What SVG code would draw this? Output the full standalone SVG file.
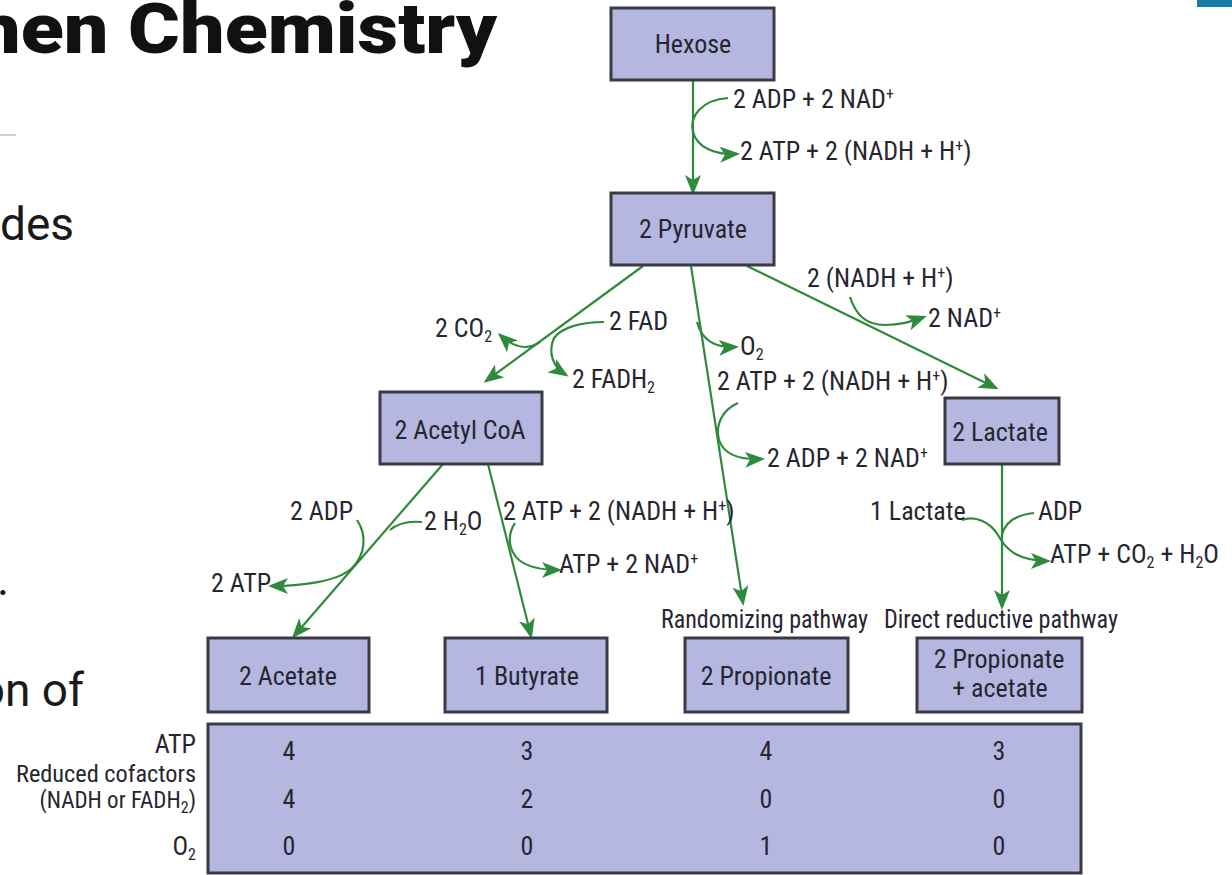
<svg xmlns="http://www.w3.org/2000/svg" width="1232" height="875" viewBox="0 0 1232 875">
<style>
.bg{fill:#ffffff}
.box{fill:#b5b7e1;stroke:#3a3a44;stroke-width:3}
.t{font-family:"Liberation Sans Narrow","Arial Narrow","Roboto Condensed","DejaVu Sans Condensed",sans-serif;font-stretch:condensed;font-size:26px;fill:#262630}
.s{font-size:23px}
.c{text-anchor:middle}
.r{text-anchor:end}
.sup{font-size:16px}
.sub{font-size:16px}
.ln{fill:none;stroke:#2f8a3c;stroke-width:2.2}
.slide{font-family:Roboto,"Open Sans",sans-serif;font-size:46px;fill:#1a1a1a}
</style>
<defs>
<marker id="ah" viewBox="0 0 20 16" refX="17" refY="8" markerWidth="20" markerHeight="16" markerUnits="userSpaceOnUse" orient="auto">
<path d="M0,0 L20,8 L0,16 L5,8 z" fill="#2f8a3c"/>
</marker>
</defs>
<rect class="bg" x="0" y="0" width="1232" height="875"/>

<g id="slide-text">
<text x="-24" y="53" font-family="Roboto,'Open Sans',sans-serif" font-weight="900" font-size="70" fill="#111" textLength="521" lengthAdjust="spacingAndGlyphs">hen Chemistry</text>
<line x1="0" y1="135" x2="16" y2="135" stroke="#c4c4c4" stroke-width="1.5"/>
<text class="slide" x="0" y="240">des</text>
<text class="slide" x="-3" y="595">.</text>
<text class="slide" x="84" y="706" text-anchor="end">on of</text>
<rect x="1197" y="0" width="35" height="7" fill="#1b7aa6"/>
</g>

<g id="connectors">
<path class="ln" d="M693,80 L693,192" marker-end="url(#ah)"/>
<path class="ln" d="M728,98 C702,100 689,116 693,132 C697,147 714,155 737,154" marker-end="url(#ah)"/>
<path class="ln" d="M643,266 L486,381" marker-end="url(#ah)"/>
<path class="ln" d="M540,342 C525,352 512,346 500,335" marker-end="url(#ah)"/>
<path class="ln" d="M604,322 C582,322 562,327 554,338 C548,352 552,366 566,375" marker-end="url(#ah)"/>
<path class="ln" d="M691,266 L743,603" marker-end="url(#ah)"/>
<path class="ln" d="M697,322 C702,340 714,348 736,347" marker-end="url(#ah)"/>
<path class="ln" d="M738,403 C722,410 715,425 719,440 C724,455 740,460 762,459" marker-end="url(#ah)"/>
<path class="ln" d="M747,266 L996,388" marker-end="url(#ah)"/>
<path class="ln" d="M850,297 C856,315 866,325 885,325 C900,325 910,322 924,317" marker-end="url(#ah)"/>
<path class="ln" d="M443,464 L294,636" marker-end="url(#ah)"/>
<path class="ln" d="M357,520 C367,535 366,555 351,569 C336,582 300,586 271,586" marker-end="url(#ah)"/>
<path class="ln" d="M422,522 C410,521 398,523 390,530"/>
<path class="ln" d="M488,464 L531,636" marker-end="url(#ah)"/>
<path class="ln" d="M515,523 C507,535 508,550 519,560 C529,568 542,570 559,570" marker-end="url(#ah)"/>
<path class="ln" d="M1002,464 L1002,607" marker-end="url(#ah)"/>
<path class="ln" d="M962,520 C975,515 990,522 998,535 C1005,548 1016,561 1048,561" marker-end="url(#ah)"/>
<path class="ln" d="M1034,513 C1015,515 1005,522 1002,535"/>
</g>

<g id="n-hexose"><rect class="box" x="611" y="8" width="163" height="72"/><text class="t c" x="693" y="53">Hexose</text></g>
<g id="n-pyruvate"><rect class="box" x="611" y="193" width="163" height="72"/><text class="t c" x="693" y="238">2 Pyruvate</text></g>
<g id="n-acetylcoa"><rect class="box" x="380" y="392" width="162" height="72"/><text class="t c" x="460" y="439">2 Acetyl CoA</text></g>
<g id="n-lactate"><rect class="box" x="945" y="398" width="114" height="66"/><text class="t c" x="1000" y="441">2 Lactate</text></g>
<g id="n-acetate"><rect class="box" x="208" y="638" width="161" height="74"/><text class="t c" x="288" y="685">2 Acetate</text></g>
<g id="n-butyrate"><rect class="box" x="445" y="638" width="162" height="74"/><text class="t c" x="527" y="685">1 Butyrate</text></g>
<g id="n-propionate"><rect class="box" x="685" y="638" width="163" height="74"/><text class="t c" x="766" y="685">2 Propionate</text></g>
<g id="n-propionate-acetate"><rect class="box" x="917" y="638" width="165" height="74"/><text class="t c" x="999" y="668">2 Propionate</text><text class="t c" x="1000" y="697">+ acetate</text></g>

<g id="labels">
<text class="t" x="733" y="108">2 ADP + 2 NAD<tspan class="sup" dy="-9">+</tspan></text>
<text class="t" x="740" y="160">2 ATP + 2 (NADH + H<tspan class="sup" dy="-9">+</tspan><tspan dy="9">)</tspan></text>
<text class="t" x="807" y="287">2 (NADH + H<tspan class="sup" dy="-9">+</tspan><tspan dy="9">)</tspan></text>
<text class="t" x="928" y="327">2 NAD<tspan class="sup" dy="-9">+</tspan></text>
<text class="t" x="435" y="337">2 CO<tspan class="sub" dy="5">2</tspan></text>
<text class="t" x="609" y="330">2 FAD</text>
<text class="t" x="572" y="388">2 FADH<tspan class="sub" dy="5">2</tspan></text>
<text class="t" x="740" y="355">O<tspan class="sub" dy="5">2</tspan></text>
<text class="t" x="717" y="390">2 ATP + 2 (NADH + H<tspan class="sup" dy="-9">+</tspan><tspan dy="9">)</tspan></text>
<text class="t" x="767" y="467">2 ADP + 2 NAD<tspan class="sup" dy="-9">+</tspan></text>
<text class="t" x="290" y="520">2 ADP</text>
<text class="t" x="424" y="530">2 H<tspan class="sub" dy="5">2</tspan><tspan dy="-5">O</tspan></text>
<text class="t" x="503" y="520">2 ATP + 2 (NADH + H<tspan class="sup" dy="-9">+</tspan><tspan dy="9">)</tspan></text>
<text class="t" x="211" y="592">2 ATP</text>
<text class="t" x="559" y="573">ATP + 2 NAD<tspan class="sup" dy="-9">+</tspan></text>
<text class="t" x="870" y="520">1 Lactate</text>
<text class="t" x="1038" y="520">ADP</text>
<text class="t" x="1050" y="563">ATP + CO<tspan class="sub" dy="5">2</tspan><tspan dy="-5"> + H</tspan><tspan class="sub" dy="5">2</tspan><tspan dy="-5">O</tspan></text>
<text class="t" x="661" y="628" textLength="207" lengthAdjust="spacingAndGlyphs">Randomizing pathway</text>
<text class="t" x="884" y="628" textLength="234" lengthAdjust="spacingAndGlyphs">Direct reductive pathway</text>
</g>

<g id="n-table">
<rect class="box" x="208" y="724" width="873" height="149"/>
<text class="t r" x="196" y="753">ATP</text>
<text class="t s r" x="196" y="782" textLength="180" lengthAdjust="spacingAndGlyphs">Reduced cofactors</text>
<text class="t s r" x="196" y="808">(NADH or FADH<tspan class="sub" dy="5">2</tspan><tspan dy="-5">)</tspan></text>
<text class="t r" x="196" y="855">O<tspan class="sub" dy="5">2</tspan></text>
<text class="t c" x="289" y="760">4</text><text class="t c" x="527" y="760">3</text><text class="t c" x="766" y="760">4</text><text class="t c" x="999" y="760">3</text>
<text class="t c" x="289" y="808">4</text><text class="t c" x="527" y="808">2</text><text class="t c" x="766" y="808">0</text><text class="t c" x="999" y="808">0</text>
<text class="t c" x="289" y="855">0</text><text class="t c" x="527" y="855">0</text><text class="t c" x="766" y="855">1</text><text class="t c" x="999" y="855">0</text>
</g>
</svg>
